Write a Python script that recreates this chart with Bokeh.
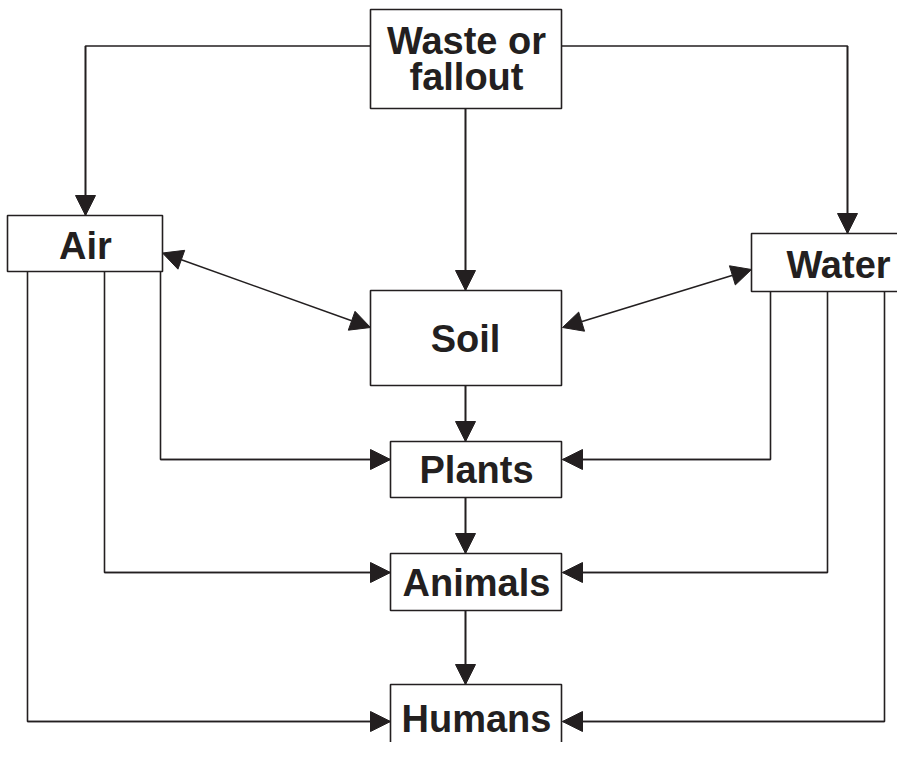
from bokeh.plotting import figure
from bokeh.models import Range1d, Arrow, NormalHead, ColumnDataSource
from bokeh.core.properties import value
from bokeh.embed import file_html
from bokeh.resources import INLINE

INK = "#231f20"

# Boxes: label, left, right, top, bottom (page pixel coordinates, y down)
box_names = ["Waste", "Air", "Water", "Soil", "Plants", "Animals", "Humans"]
box_left = [370, 7, 751, 370, 390, 390, 390]
box_right = [561, 162, 930, 561, 561, 561, 561]
box_top = [9, 215, 233, 290, 441, 553, 684]
box_bottom = [108, 271, 291, 385, 497, 610, 780]

# Texts
label_text = ["Waste or", "fallout", "Air", "Water", "Soil", "Plants", "Animals", "Humans"]
label_x = [466, 466, 85, 838, 465, 476, 476, 476]
label_y = [40, 76, 245, 264, 338, 469, 582, 718]

# Connectors: polylines whose last segment carries an arrowhead
paths_x = [
    [370, 85, 85], [561, 847, 847], [465, 465],
    [465, 465], [465, 465], [465, 465],
    [160, 160, 390], [104, 104, 390], [27, 27, 390],
    [770, 770, 562], [827, 827, 562], [884, 884, 562],
]
paths_y = [
    [45.5, 45.5, 215], [45.5, 45.5, 233], [108, 290],
    [385, 441], [497, 553], [610, 684],
    [271, 459, 459], [271, 572, 572], [271, 721, 721],
    [291, 459, 459], [291, 572, 572], [291, 721, 721],
]
# Two-way links: (x0, y0) <-> (x1, y1)
both_x0 = [162, 751]
both_y0 = [252.5, 269]
both_x1 = [370, 562]
both_y1 = [327, 327]

p = figure(width=897, height=742, output_backend="svg", toolbar_location=None,
           x_range=Range1d(0, 897), y_range=Range1d(742, 0),
           min_border=0, background_fill_color="white", border_fill_color="white")
p.axis.visible = False
p.grid.visible = False
p.outline_line_color = None

p.multi_line(paths_x, paths_y, line_color=INK, line_width=1.6)

for xs, ys in zip(paths_x, paths_y):
    p.add_layout(Arrow(end=NormalHead(size=20, fill_color=INK, line_color=INK, line_width=1),
                       x_start=xs[-2], y_start=ys[-2], x_end=xs[-1], y_end=ys[-1],
                       line_color=INK, line_width=1.6))

for x0, y0, x1, y1 in zip(both_x0, both_y0, both_x1, both_y1):
    p.add_layout(Arrow(start=NormalHead(size=20, fill_color=INK, line_color=INK, line_width=1),
                       end=NormalHead(size=20, fill_color=INK, line_color=INK, line_width=1),
                       x_start=x0, y_start=y0, x_end=x1, y_end=y1,
                       line_color=INK, line_width=1.6))

boxes = ColumnDataSource(dict(left=box_left, right=box_right, top=box_top, bottom=box_bottom))
p.quad(left="left", right="right", top="top", bottom="bottom", source=boxes,
       fill_color="white", line_color=INK, line_width=1.6)

labels = ColumnDataSource(dict(x=label_x, y=label_y, t=label_text))
p.text(x="x", y="y", text="t", source=labels, text_align="center", text_baseline="middle",
       text_font=value("Liberation Sans"), text_font_style="bold", text_font_size="38px",
       text_color=INK)

open("out.html", "w").write(file_html(p, INLINE))
